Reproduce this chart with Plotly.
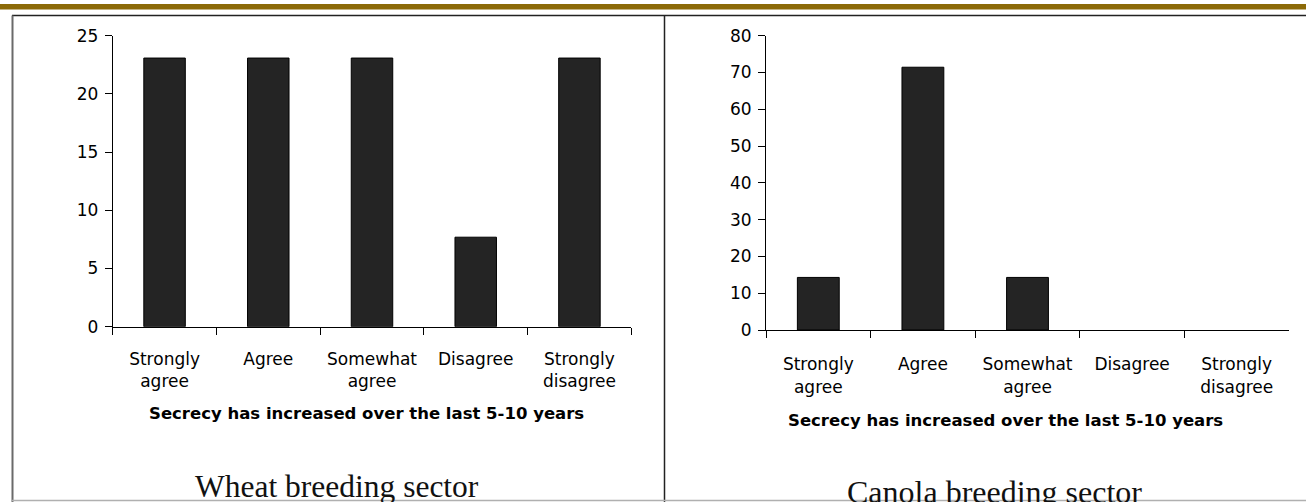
import plotly.graph_objects as go

# Survey responses (% of respondents)
categories = ["Strongly agree", "Agree", "Somewhat agree", "Disagree", "Strongly disagree"]
tick_text = ["Strongly<br>agree", "Agree", "Somewhat<br>agree", "Disagree", "Strongly<br>disagree"]
wheat_values = [23.08, 23.08, 23.08, 7.69, 23.08]
canola_values = [14.29, 71.43, 14.29, 0, 0]
axis_title = "Secrecy has increased over the last 5-10 years"
panel_titles = ["Wheat breeding sector", "Canola breeding sector"]

W, H = 1306, 502


def px(x):
    return x / W


def py(y):
    return 1 - y / H


def bar_trace(values, xa, ya):
    # empty categories get no outline so nothing is drawn on the baseline
    return go.Bar(
        x=categories, y=values, xaxis=xa, yaxis=ya, width=0.4,
        marker=dict(color="#242424",
                    line=dict(color="#000000", width=[1 if v > 0 else 0 for v in values])),
        showlegend=False, hoverinfo="skip")


fig = go.Figure()
fig.add_trace(bar_trace(wheat_values, "x", "y"))
fig.add_trace(bar_trace(canola_values, "x2", "y2"))

tick_font = dict(family="DejaVu Sans", size=17, color="#000000")

xcommon = dict(type="category", categoryorder="array", categoryarray=categories,
               tickmode="array", tickvals=categories, ticktext=tick_text,
               tickson="boundaries", ticks="outside", ticklen=7, tickwidth=1,
               tickcolor="#000000", showline=True, linecolor="#000000", linewidth=1,
               showgrid=False, zeroline=False, range=[-0.5, 4.5], automargin=False,
               tickfont=tick_font, fixedrange=True)
ycommon = dict(ticks="outside", ticklen=7, tickwidth=1, tickcolor="#000000",
               showline=True, linecolor="#000000", linewidth=1, showgrid=False,
               zeroline=False, tickfont=tick_font, ticklabelstandoff=3,
               automargin=False, fixedrange=True)

fig.update_layout(
    width=W, height=H,
    margin=dict(l=0, r=0, t=0, b=0, pad=0, autoexpand=False),
    paper_bgcolor="#ffffff", plot_bgcolor="#ffffff",
    xaxis=dict(domain=[px(112.7), px(631.3)], anchor="y", ticklabelstandoff=17, **xcommon),
    yaxis=dict(domain=[py(326.7), py(35.7)], anchor="x", range=[0, 25],
               tickvals=[0, 5, 10, 15, 20, 25], **ycommon),
    xaxis2=dict(domain=[px(766), px(1289)], anchor="y2", ticklabelstandoff=19, **xcommon),
    yaxis2=dict(domain=[py(330), py(35.7)], anchor="x2", range=[0, 80],
                tickvals=[0, 10, 20, 30, 40, 50, 60, 70, 80], **ycommon),
)

# Axis titles and panel captions
fig.add_annotation(text="<b>" + axis_title + "</b>", x=px(366), y=py(413),
                   xref="paper", yref="paper", xanchor="center", yanchor="middle",
                   showarrow=False, font=dict(family="DejaVu Sans", size=16.5, color="#000000"))
fig.add_annotation(text="<b>" + axis_title + "</b>", x=px(1005), y=py(420),
                   xref="paper", yref="paper", xanchor="center", yanchor="middle",
                   showarrow=False, font=dict(family="DejaVu Sans", size=16.5, color="#000000"))
fig.add_annotation(text=panel_titles[0], x=px(337), y=py(486),
                   xref="paper", yref="paper", xanchor="center", yanchor="middle",
                   showarrow=False, font=dict(family="Liberation Serif", size=31.5, color="#111111"))
fig.add_annotation(text=panel_titles[1], x=px(994), y=py(492),
                   xref="paper", yref="paper", xanchor="center", yanchor="middle",
                   showarrow=False, font=dict(family="Liberation Serif", size=32, color="#111111"))

# Slide frame: header band, panel borders
shapes = [
    dict(type="rect", x0=0, x1=1, y0=py(9.5), y1=py(4), xref="paper", yref="paper",
         fillcolor="#8c6a08", line=dict(width=0)),
    dict(type="line", x0=px(12), x1=1, y0=py(15.5), y1=py(15.5), xref="paper", yref="paper",
         line=dict(color="#222222", width=1.5)),
    dict(type="line", x0=px(12.5), x1=px(12.5), y0=py(15.5), y1=py(502), xref="paper", yref="paper",
         line=dict(color="#6a6a6a", width=2)),
    dict(type="line", x0=px(664.5), x1=px(664.5), y0=py(15.5), y1=py(502), xref="paper", yref="paper",
         line=dict(color="#222222", width=1.5)),
    dict(type="line", x0=px(12), x1=1, y0=py(500.5), y1=py(500.5), xref="paper", yref="paper",
         line=dict(color="#b0b0b0", width=1.5)),
]
fig.update_layout(shapes=shapes)

fig.write_html("out.html")
